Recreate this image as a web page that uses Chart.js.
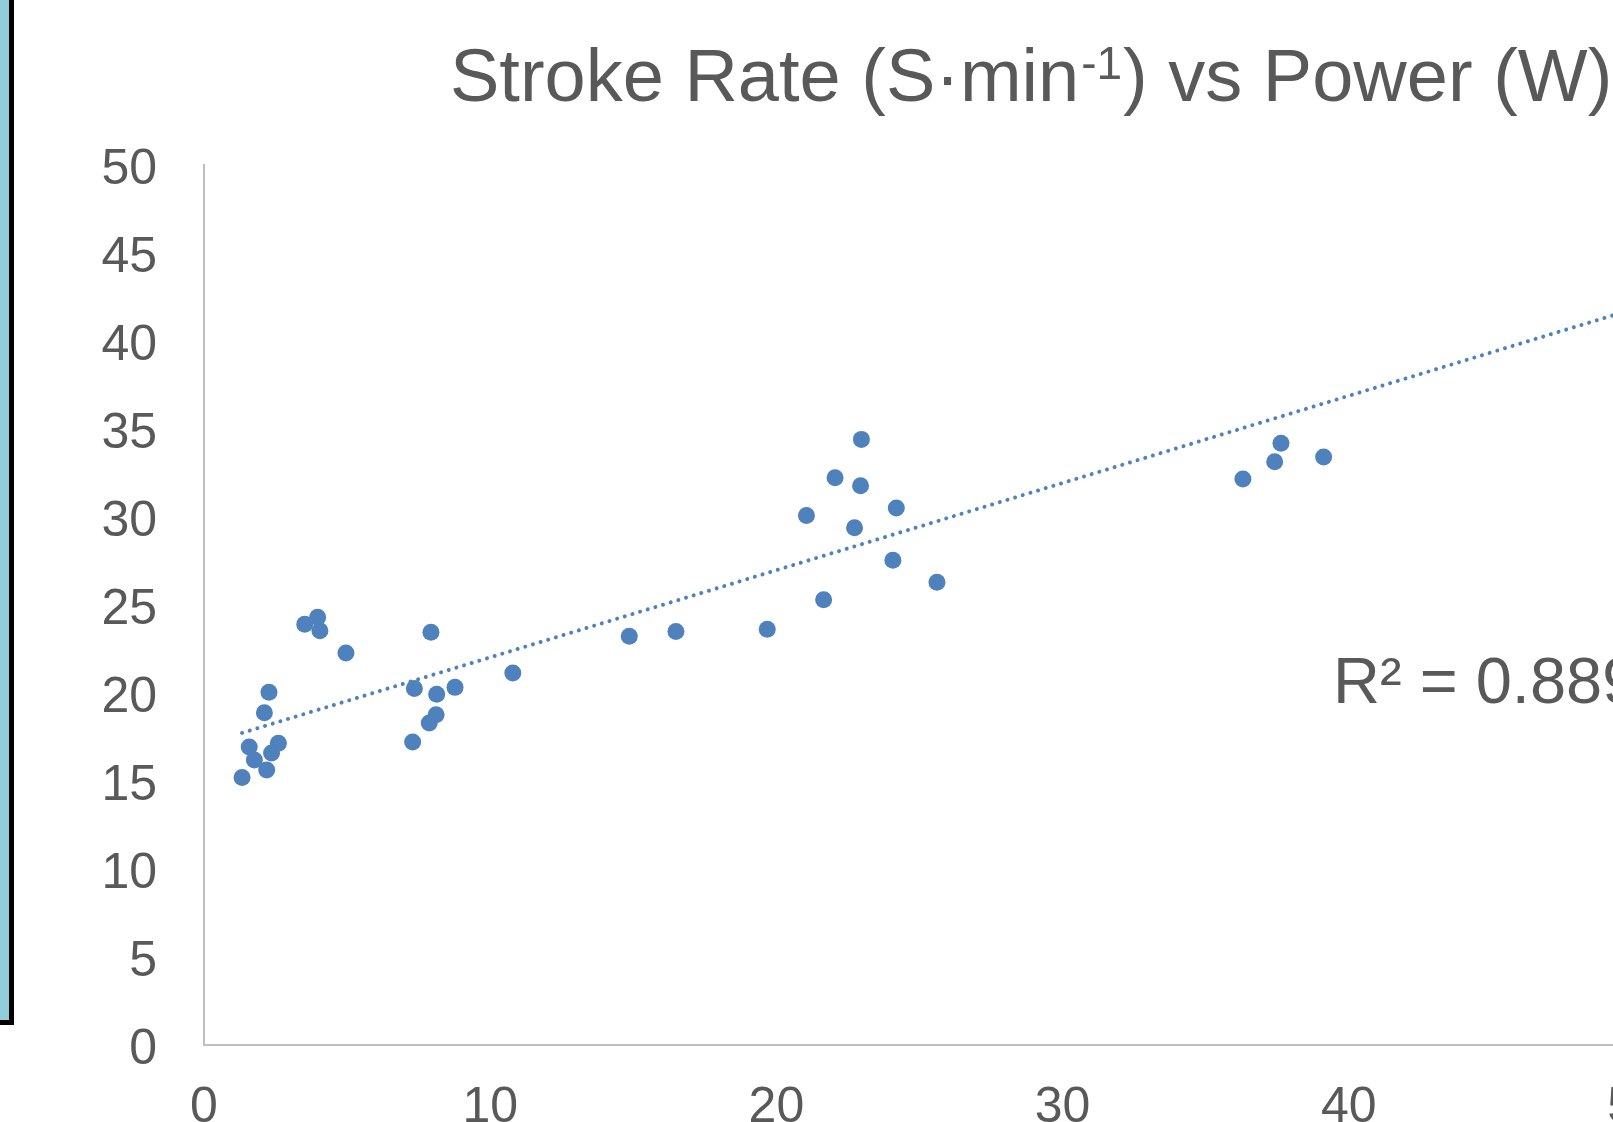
<!DOCTYPE html>
<html><head><meta charset="utf-8">
<script src="https://cdn.jsdelivr.net/npm/chart.js@4"></script>
<style>
html,body{margin:0;padding:0;width:1613px;height:1122px;overflow:hidden;background:#fff;}
#wrap{position:relative;width:1613px;height:1122px;overflow:hidden;background:#fff;}
#c{position:absolute;left:0;top:0;width:2056px;height:1122px;}
#side{position:absolute;box-sizing:border-box;left:-50px;top:-10px;width:64px;height:1035px;background:#92CDDC;border:5px solid #000;}
</style></head><body>
<div id="wrap"><canvas id="c" width="2056" height="1122"></canvas><div id="side"></div></div>
<script>
// Power (W) on x, stroke rate (S·min⁻¹) on y
const power = [1.33,1.58,1.76,2.19,2.36,2.60,2.11,2.27,3.52,3.97,4.05,4.96,
  7.29,7.35,7.93,7.87,8.11,8.13,8.77,10.79,
  14.86,16.49,19.68,21.05,21.65,22.05,22.73,22.94,22.97,24.07,24.19,25.61,
  36.30,37.41,37.63,39.12];
const strokeRate = [15.2,16.93,16.19,15.63,16.59,17.14,18.88,20.04,23.9,24.3,23.54,22.27,
  17.22,20.25,23.45,18.3,18.77,19.93,20.32,21.14,
  23.22,23.49,23.62,30.08,25.3,32.23,29.39,31.78,34.41,27.54,30.51,26.29,
  32.16,33.14,34.19,33.41];
// Linear trendline (forecast forward to the axis end)
const trendPower = [1.33, 50];
const trendRate = [17.73, 41.84];
const r2Label = 'R\u00B2 = 0.889';
const r2Anchor = [39.45, 19.43];
const titleParts = ['Stroke Rate (S\u00B7min', '-1', ') vs Power (W)'];
const xRange = [0, 50], xStep = 10;
const yRange = [0, 50], yStep = 5;

const FONT = '"Liberation Sans", Arial, sans-serif';
const TXT = '#595959';
const BLUE = '#4F81BD';

const titlePlugin = {
  id: 'titleSup',
  afterDraw(chart) {
    const ctx = chart.ctx;
    const x0 = chart.chartArea.left + 246;
    const base = 101;
    ctx.save();
    ctx.fillStyle = TXT;
    ctx.textAlign = 'left';
    ctx.textBaseline = 'alphabetic';
    ctx.font = '74px ' + FONT;
    let x = x0;
    ctx.fillText(titleParts[0], x, base);
    x += ctx.measureText(titleParts[0]).width + 2;
    ctx.font = '46px ' + FONT;
    ctx.fillText(titleParts[1], x, base - 22);
    x += ctx.measureText(titleParts[1]).width + 1;
    ctx.font = '74px ' + FONT;
    ctx.fillText(titleParts[2], x, base);
    ctx.restore();
  }
};

const r2Plugin = {
  id: 'r2',
  afterDatasetsDraw(chart) {
    const {ctx, scales: {x, y}} = chart;
    ctx.save();
    ctx.font = '65px ' + FONT;
    ctx.fillStyle = TXT;
    ctx.textAlign = 'left';
    ctx.textBaseline = 'alphabetic';
    ctx.fillText(r2Label, x.getPixelForValue(r2Anchor[0]), y.getPixelForValue(r2Anchor[1]));
    ctx.restore();
  }
};

new Chart(document.getElementById('c'), {
  type: 'scatter',
  data: {
    datasets: [
      {
        label: 'trend',
        type: 'line',
        data: trendPower.map((v, i) => ({x: v, y: trendRate[i]})),
        borderColor: BLUE,
        borderWidth: 4,
        borderDash: [0.001, 8],
        borderCapStyle: 'round',
        pointRadius: 0,
        fill: false,
        order: 0
      },
      {
        label: 'data',
        data: power.map((v, i) => ({x: v, y: strokeRate[i]})),
        backgroundColor: BLUE,
        borderColor: BLUE,
        borderWidth: 0,
        pointRadius: 8.5,
        order: 1
      }
    ]
  },
  options: {
    responsive: false,
    animation: false,
    devicePixelRatio: 1,
    layout: {padding: {left: 0, right: 421, top: 165, bottom: 0}},
    plugins: {
      legend: {display: false},
      tooltip: {enabled: false},
      title: {display: false}
    },
    scales: {
      x: {
        type: 'linear',
        min: xRange[0], max: xRange[1],
        grid: {display: false, drawTicks: false},
        border: {display: true, color: '#BFBFBF', width: 2},
        ticks: {stepSize: xStep, color: TXT, font: {family: FONT, size: 50}, padding: 33, maxRotation: 0},
        afterFit: s => { s.height = 77; }
      },
      y: {
        type: 'linear',
        min: yRange[0], max: yRange[1],
        grid: {display: false, drawTicks: false},
        border: {display: true, color: '#BFBFBF', width: 2},
        ticks: {stepSize: yStep, color: TXT, font: {family: FONT, size: 50}, padding: 47, labelOffset: 5},
        afterFit: s => { s.width = 204; }
      }
    }
  },
  plugins: [titlePlugin, r2Plugin]
});
</script>
</body></html>
